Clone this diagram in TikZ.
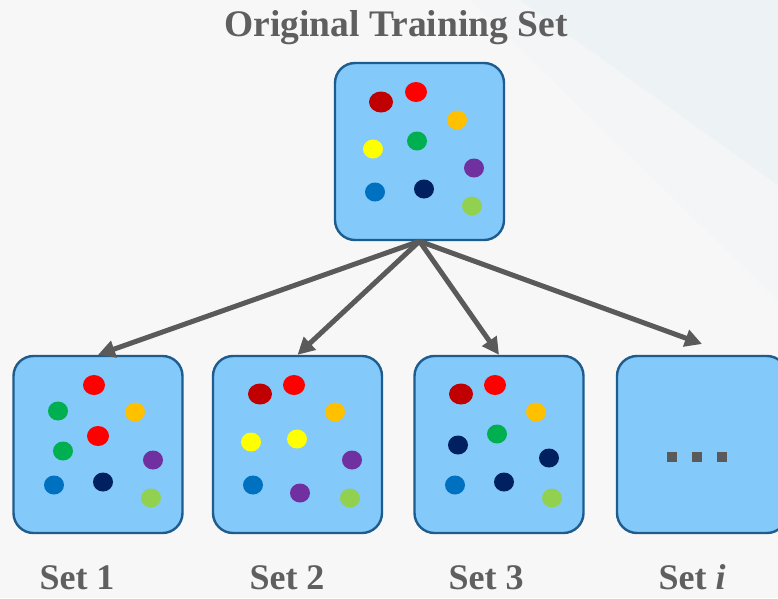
\documentclass[tikz,border=0pt]{standalone}
\usepackage{fontspec}
\setmainfont{Liberation Serif}
\usetikzlibrary{arrows.meta}
\definecolor{bgc}{HTML}{F7F7F7}
\definecolor{bgblue}{HTML}{EDF2F4}
\definecolor{bgblue2}{HTML}{F3F5F6}
\definecolor{boxfill}{HTML}{83C9FA}
\definecolor{boxline}{HTML}{1F5C8E}
\definecolor{txtgray}{HTML}{5F5F5F}
\definecolor{arrgray}{HTML}{5A5A5A}
\definecolor{cDR}{HTML}{C00000}
\definecolor{cR}{HTML}{FF0000}
\definecolor{cO}{HTML}{FFC000}
\definecolor{cY}{HTML}{FFFF00}
\definecolor{cG}{HTML}{00B050}
\definecolor{cP}{HTML}{7030A0}
\definecolor{cB}{HTML}{0070C0}
\definecolor{cN}{HTML}{002060}
\definecolor{cLG}{HTML}{92D050}
\tikzset{
  setbox/.style={draw=boxline, line width=2.4pt, fill=boxfill, rounded corners=20pt,
    minimum width=169pt, minimum height=177pt, inner sep=0pt},
  lbl/.style={text=txtgray, font=\fontsize{36}{40}\selectfont\bfseries, inner sep=0pt,
    anchor=base, text depth=0pt},
  conn/.style={draw=arrgray, line width=5pt, -{Triangle[length=17pt,width=17pt]}},
  sm/.style={x radius=10pt, y radius=9.5pt},
  md/.style={x radius=11pt, y radius=10pt},
  lg/.style={x radius=12pt, y radius=10.5pt},
  sq/.style={fill=arrgray}
}
\begin{document}
\begin{tikzpicture}[x=1pt,y=-1pt]
\useasboundingbox (0,0) rectangle (778,598);
\clip (0,0) rectangle (778,598);
\fill[bgc] (0,0) rectangle (778,598);
\fill[bgblue2] (470,0) -- (778,0) -- (778,300) -- cycle;
\fill[bgblue] (520,0) -- (778,0) -- (778,185) -- cycle;

\node[lbl, font=\fontsize{37.5}{40}\selectfont\bfseries] (title) at (396,36) {Original Training Set};

\node[setbox] (top) at (419.5,151.5) {};
\node[setbox] (s1) at (98,444.5) {};
\node[setbox] (s2) at (297.5,444.5) {};
\node[setbox] (s3) at (499,444.5) {};
\node[setbox, minimum width=170pt] (si) at (702,444.5) {};
\coordinate (ti) at (702,344);

\draw[conn] (top.south) -- (s1.north);
\draw[conn] (top.south) -- (s2.north);
\draw[conn] (top.south) -- (s3.north);
\draw[conn] (top.south) -- (ti);

% top box dots
\fill[cDR] (381,102) ellipse [lg];
\fill[cR] (416,92) ellipse [md];
\fill[cO] (457,120) ellipse [sm];
\fill[cY] (373,149) ellipse [sm];
\fill[cG] (417,141) ellipse [sm];
\fill[cP] (474,168) ellipse [sm];
\fill[cB] (375,192) ellipse [sm];
\fill[cN] (424,189) ellipse [sm];
\fill[cLG] (472,206) ellipse [sm];

% set 1 dots
\fill[cR] (94,385) ellipse [md];
\fill[cG] (58,411) ellipse [sm];
\fill[cO] (135,412) ellipse [sm];
\fill[cR] (98,436) ellipse [md];
\fill[cG] (63,451) ellipse [sm];
\fill[cP] (153,460) ellipse [sm];
\fill[cB] (54,485) ellipse [sm];
\fill[cN] (103,482) ellipse [sm];
\fill[cLG] (151,498) ellipse [sm];

% set 2 dots
\fill[cDR] (260,394) ellipse [lg];
\fill[cR] (294,385) ellipse [md];
\fill[cO] (335,412) ellipse [sm];
\fill[cY] (251,442) ellipse [sm];
\fill[cY] (297,439) ellipse [sm];
\fill[cP] (352,460) ellipse [sm];
\fill[cB] (253,485) ellipse [sm];
\fill[cP] (300,493) ellipse [sm];
\fill[cLG] (350,498) ellipse [sm];

% set 3 dots
\fill[cDR] (461,394) ellipse [lg];
\fill[cR] (495,385) ellipse [md];
\fill[cO] (536,412) ellipse [sm];
\fill[cN] (458,445) ellipse [sm];
\fill[cG] (497,434) ellipse [sm];
\fill[cN] (549,458) ellipse [sm];
\fill[cB] (455,485) ellipse [sm];
\fill[cN] (504,482) ellipse [sm];
\fill[cLG] (552,498) ellipse [sm];

% set i ellipsis
\fill[sq] (667,452) rectangle (677,462);
\fill[sq] (692,452) rectangle (702,462);
\fill[sq] (717,452) rectangle (727,462);

\node[lbl] (l1) at (77,589) {Set 1};
\node[lbl] (l2) at (287,589) {Set 2};
\node[lbl] (l3) at (486,589) {Set 3};
\node[lbl] (li) at (692,589) {Set \textit{i}};
\end{tikzpicture}
\end{document}
